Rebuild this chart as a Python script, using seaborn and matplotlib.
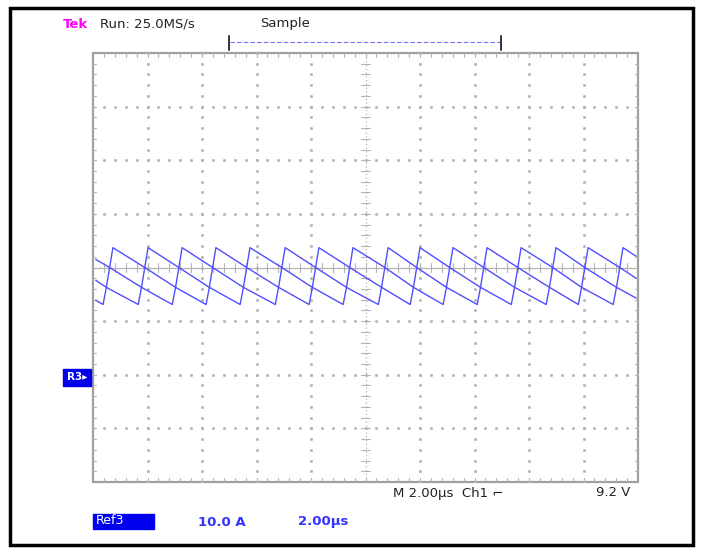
import matplotlib
matplotlib.use("Agg")
import matplotlib.pyplot as plt
from matplotlib.patches import Rectangle
import seaborn as sns
import numpy as np
import pandas as pd

# time in us (2 us/div, 10 div), current in A (10 A/div, 8 div)
# three overlapping sweeps of the ripple, each one a sawtooth
top_peak_t = [0.73, 2.02, 3.27, 4.51, 5.76, 7.05, 8.29, 9.54, 10.83, 12.00,
              13.21, 14.46, 15.71, 16.99, 18.17, 19.45]
top_trough_t = [0.61, 1.90, 3.15, 4.39, 5.64, 6.93, 8.17, 9.42, 10.71, 11.88,
                13.09, 14.34, 15.59, 16.87, 18.05, 19.33]
top_levels = (0.0, 3.7)
top_ends = ((0.10, 1.5), (19.93, 2.1))

mid_peak_t = [0.61, 1.90, 3.15, 4.39, 5.64, 6.93, 8.17, 9.42, 10.71, 11.88,
              13.09, 14.34, 15.59, 16.87, 18.05, 19.33]
mid_trough_t = [0.49, 1.78, 3.03, 4.27, 5.52, 6.81, 8.05, 9.30, 10.59, 11.76,
                12.97, 14.22, 15.47, 16.75, 17.93, 19.21]
mid_levels = (-3.7, 0.0)
mid_ends = ((0.10, -2.4), (19.93, -2.0))

low_peak_t = [0.49, 1.78, 3.03, 4.27, 5.52, 6.81, 8.05, 9.30, 10.59, 11.76,
              12.97, 14.22, 15.47, 16.75, 17.93, 19.21]
low_trough_t = [0.37, 1.66, 2.91, 4.15, 5.40, 6.69, 7.93, 9.18, 10.47, 11.64,
                12.85, 14.10, 15.35, 16.63, 17.81, 19.09]
low_levels = (-6.9, -3.7)
low_ends = ((0.10, -6.1), (19.93, -5.7))


def trace(troughs, peaks, levels, ends):
    t = [ends[0][0]]
    v = [ends[0][1]]
    for tr, pk in zip(troughs, peaks):
        t += [tr, pk]
        v += [levels[0], levels[1]]
    t.append(ends[1][0])
    v.append(ends[1][1])
    return pd.DataFrame({"t": t, "i": v})


sweeps = [
    trace(top_trough_t, top_peak_t, top_levels, top_ends),
    trace(mid_trough_t, mid_peak_t, mid_levels, mid_ends),
    trace(low_trough_t, low_peak_t, low_levels, low_ends),
]

sns.set_style("white")
plt.rcParams["font.family"] = ["DejaVu Sans"]

W, H = 701, 549
fig = plt.figure(figsize=(W / 100, H / 100), dpi=100)
ax = fig.add_axes([93 / W, (H - 482) / H, 545 / W, 429 / H])
ax.set_xlim(0, 20)
ax.set_ylim(-40, 40)
ax.axis("off")

grid_c = "#b4b4b4"
# graticule dots
for gx in np.arange(2, 20, 2):
    if gx == 10:
        continue
    ys = np.arange(-40, 40.1, 2)
    ax.plot([gx] * len(ys), ys, ls="none", marker="s", ms=1.0, color=grid_c)
for gy in np.arange(-30, 40, 10):
    if gy == 0:
        continue
    xs = np.arange(0, 20.1, 0.4)
    ax.plot(xs, [gy] * len(xs), ls="none", marker="s", ms=1.0, color=grid_c)
# center lines with minor ticks
ax.axhline(0, color=grid_c, lw=0.9)
ax.axvline(10, color=grid_c, lw=0.9, ls=(0, (1, 2)))
for xt in np.arange(0.4, 20, 0.4):
    ax.plot([xt, xt], [-0.8, 0.8], color=grid_c, lw=0.8)
    ax.plot([xt, xt], [-40, -39.2], color=grid_c, lw=0.8)
    ax.plot([xt, xt], [40, 39.2], color=grid_c, lw=0.8)
for yt in np.arange(-38, 40, 2):
    ax.plot([9.85, 10.15], [yt, yt], color=grid_c, lw=0.8)
    ax.plot([0, 0.12], [yt, yt], color=grid_c, lw=0.8)
    ax.plot([19.88, 20], [yt, yt], color=grid_c, lw=0.8)
ax.add_patch(Rectangle((0, -40), 20, 80, fill=False, ec="#a0a0a0", lw=1.6,
                       clip_on=False))

trace_c = "#4f4fff"
for df in sweeps:
    sns.lineplot(data=df, x="t", y="i", sort=False, estimator=None,
                 color=trace_c, lw=1.0, ax=ax)


def px(x, y):
    return x / W, 1 - y / H


# outer frame
fig.patches.append(Rectangle(px(10, 545), 683 / W, 537 / H, fill=False,
                             ec="black", lw=2.5, transform=fig.transFigure))

# header
fig.text(*px(63, 24), "Tek", color="#ff00ff", fontsize=9.5, weight="bold",
         va="center")
fig.text(*px(100, 24), "Run: 25.0MS/s", color="#222222", fontsize=9.5,
         va="center")
fig.text(*px(260, 24), "Sample", color="#222222", fontsize=9.5, va="center")
# trigger position bracket
fig.lines.append(plt.Line2D([px(230, 0)[0], px(501, 0)[0]],
                            [px(0, 42)[1]] * 2, color="#7070ff", lw=0.8,
                            ls=(0, (4, 2)), transform=fig.transFigure))
for bx in (229, 501):
    fig.lines.append(plt.Line2D([px(bx, 0)[0]] * 2,
                                [px(0, 36)[1], px(0, 50)[1]],
                                color="#333333", lw=1.4,
                                transform=fig.transFigure))

# reference marker
fig.patches.append(Rectangle(px(63, 386), 28 / W, 17 / H, color="#0000ee",
                             transform=fig.transFigure))
fig.text(*px(77, 377), "R3▸", color="white", fontsize=7.5, weight="bold",
         ha="center", va="center")

# readouts
fig.text(*px(393, 493), "M 2.00µs  Ch1 ⌐", color="#222222", fontsize=9.5,
         va="center")
fig.text(*px(630, 493), "9.2 V", color="#222222", fontsize=9.5, va="center",
         ha="right")
fig.patches.append(Rectangle(px(93, 529), 61 / W, 15 / H, color="#0000ee",
                             transform=fig.transFigure))
fig.text(*px(96, 521), "Ref3", color="white", fontsize=9, va="center")
fig.text(*px(198, 522), "10.0 A", color="#3333ff", fontsize=9.5,
         weight="bold", va="center")
fig.text(*px(298, 522), "2.00µs", color="#3333ff", fontsize=9.5,
         weight="bold", va="center")

fig.savefig("out.png", dpi=100)
